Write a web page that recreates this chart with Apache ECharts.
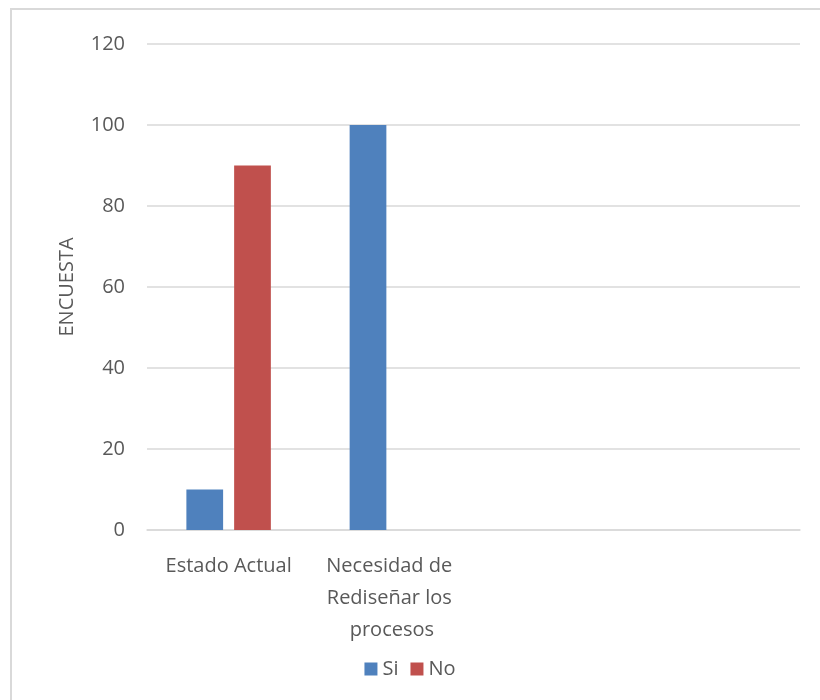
<!DOCTYPE html>
<html>
<head>
<meta charset="utf-8">
<script src="https://cdn.jsdelivr.net/npm/echarts@6/dist/echarts.min.js"></script>
<style>
  html, body { margin: 0; padding: 0; background: #fff; }
  #grafico { width: 820px; height: 700px; }
</style>
</head>
<body>
<div id="grafico"></div>
<script>
// Datos del gráfico
const categorias = ['Estado Actual', 'Necesidad de Rediseñar los procesos', '', ''];
const valoresSi = [10, 100, null, null];
const valoresNo = [90, 0, null, null];
const nombresSeries = ['Si', 'No'];

const chart = echarts.init(document.getElementById('grafico'));
const fuente = 'Open Sans';

const option = {
    animation: false,
    textStyle: { fontFamily: fuente },
    // Borde del área del gráfico (solo arriba e izquierda visibles)
    graphic: [
        {
            type: 'polyline',
            shape: { points: [[11, 700], [11, 9], [820, 9]] },
            style: { stroke: '#d9d9d9', lineWidth: 2, fill: null },
            silent: true
        }
    ],
    legend: {
        data: nombresSeries,
        bottom: 16,
        left: 'center',
        icon: 'rect',
        itemWidth: 13,
        itemHeight: 13,
        itemGap: 12,
        textStyle: { fontSize: 20, color: '#595959', fontFamily: fuente }
    },
    grid: { left: 147, right: 20, top: 44, bottom: 170 },
    xAxis: {
        type: 'category',
        data: categorias,
        axisLine: { lineStyle: { color: '#d9d9d9', width: 1.5 } },
        axisTick: { show: false },
        axisLabel: {
            color: '#595959',
            fontSize: 20,
            margin: 20,
            lineHeight: 32,
            width: 160,
            overflow: 'break',
            interval: 0
        }
    },
    yAxis: {
        type: 'value',
        min: 0,
        max: 120,
        interval: 20,
        name: 'ENCUESTA',
        nameLocation: 'middle',
        nameGap: 70,
        nameRotate: 90,
        nameTextStyle: { fontSize: 20, color: '#595959' },
        axisLabel: { color: '#595959', fontSize: 20, margin: 22 },
        splitLine: { lineStyle: { color: '#d9d9d9', width: 1.5 } },
        axisLine: { show: false },
        axisTick: { show: false }
    },
    series: [
        {
            name: nombresSeries[0],
            type: 'bar',
            data: valoresSi,
            barWidth: '22.5%',
            barGap: '30%',
            itemStyle: { color: '#4f81bd' }
        },
        {
            name: nombresSeries[1],
            type: 'bar',
            data: valoresNo,
            barWidth: '22.5%',
            itemStyle: { color: '#c0504d' }
        }
    ]
};

chart.setOption(option);
</script>
</body>
</html>
